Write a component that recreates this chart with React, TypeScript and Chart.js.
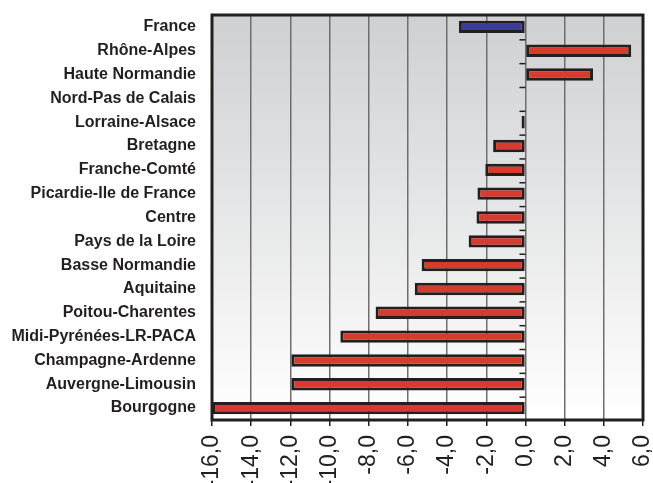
import React, { useEffect, useRef } from "react";
import { Chart, registerables } from "chart.js";

Chart.register(...registerables);

const regions = [
  "France",
  "Rhône-Alpes",
  "Haute Normandie",
  "Nord-Pas de Calais",
  "Lorraine-Alsace",
  "Bretagne",
  "Franche-Comté",
  "Picardie-Ile de France",
  "Centre",
  "Pays de la Loire",
  "Basse Normandie",
  "Aquitaine",
  "Poitou-Charentes",
  "Midi-Pyrénées-LR-PACA",
  "Champagne-Ardenne",
  "Auvergne-Limousin",
  "Bourgogne",
];

const values = [
  -3.4, 5.4, 3.45, 0, -0.2, -1.65, -2.05, -2.45, -2.5, -2.9, -5.3, -5.65, -7.65, -9.45, -11.95, -11.95, -16,
];

const barColors = regions.map((r) => (r === "France" ? "#3b3c9c" : "#d63b2d"));

const xMin = -16;
const xMax = 6;
const xStep = 2;

const frame = {
  id: "frame",
  beforeDraw(chart: any) {
    const { ctx, chartArea } = chart;
    const g = ctx.createLinearGradient(0, chartArea.top, 0, chartArea.bottom);
    g.addColorStop(0, "#cfd0d2");
    g.addColorStop(1, "#ffffff");
    ctx.save();
    ctx.fillStyle = g;
    ctx.fillRect(chartArea.left, chartArea.top, chartArea.right - chartArea.left, chartArea.bottom - chartArea.top);
    ctx.restore();
  },
  afterDatasetsDraw(chart: any) {
    const { ctx, chartArea, scales } = chart;
    const x0 = scales.x.getPixelForValue(0);
    ctx.save();
    ctx.strokeStyle = "#231f20";
    ctx.lineWidth = 1.5;
    for (let i = 1; i < regions.length; i++) {
      const y = (scales.y.getPixelForValue(i - 1) + scales.y.getPixelForValue(i)) / 2 + 1;
      ctx.beginPath();
      ctx.moveTo(x0 - 6, y);
      ctx.lineTo(x0, y);
      ctx.stroke();
    }
    ctx.lineWidth = 3;
    ctx.strokeStyle = "#231f20";
    ctx.strokeRect(chartArea.left, chartArea.top, chartArea.right - chartArea.left, chartArea.bottom - chartArea.top);
    ctx.restore();
  },
};

const zeroPad = (s: any) => {
  s.paddingLeft = 0;
  s.paddingRight = 0;
  s.paddingTop = 0;
  s.paddingBottom = 0;
};

export default function App() {
  const ref = useRef<HTMLCanvasElement>(null);
  useEffect(() => {
    document.body.style.margin = "0";
    const chart = new Chart(ref.current!, {
      type: "bar",
      data: {
        labels: regions,
        datasets: [
          {
            data: values,
            backgroundColor: barColors,
            borderColor: "#231f20",
            borderWidth: 3,
            borderSkipped: false,
            barPercentage: 0.52,
            categoryPercentage: 1,
          },
        ],
      },
      options: {
        indexAxis: "y",
        animation: false,
        responsive: false,
        maintainAspectRatio: false,
        layout: { padding: { top: 15, right: 10, left: 0, bottom: 0 } },
        plugins: { legend: { display: false }, tooltip: { enabled: false } },
        scales: {
          x: {
            min: xMin,
            max: xMax,
            ticks: {
              stepSize: xStep,
              minRotation: 90,
              maxRotation: 90,
              color: "#231f20",
              padding: 9,
              font: { family: "'Liberation Sans', Arial, sans-serif", size: 23 },
              callback: (v: any) => Number(v).toFixed(1).replace(".", ","),
            },
            grid: { color: "#6e6e6e", lineWidth: 1.5, tickLength: 6, tickColor: "#231f20" },
            border: { display: false },
            afterFit: (s: any) => {
              s.height = 63;
              zeroPad(s);
            },
          },
          y: {
            ticks: {
              color: "#231f20",
              padding: 16,
              font: { family: "'Liberation Sans', Arial, sans-serif", size: 16, weight: "bold" },
            },
            grid: { display: false, drawTicks: false },
            border: { display: false },
            afterFit: (s: any) => {
              s.width = 212;
              zeroPad(s);
            },
          },
        },
      },
      plugins: [frame],
    });
    return () => chart.destroy();
  }, []);
  return (
    <div style={{ width: 653, height: 483 }}>
      <canvas ref={ref} width={653} height={483} style={{ display: "block" }} />
    </div>
  );
}
